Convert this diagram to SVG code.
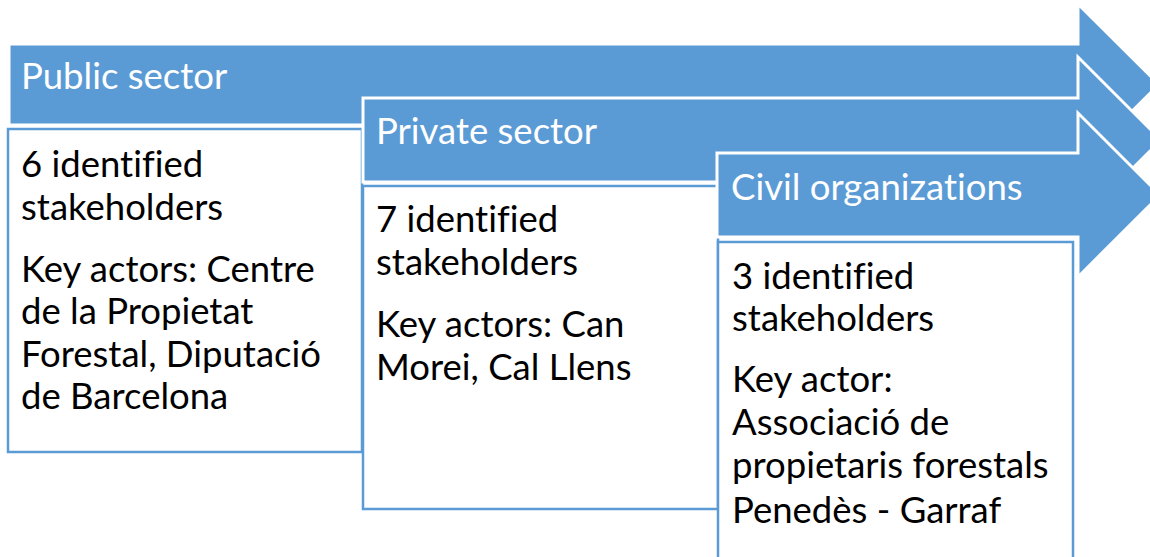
<svg xmlns="http://www.w3.org/2000/svg" width="1150" height="557" viewBox="0 0 1150 557">
  <style>
    .arrow { fill: #5B9BD5; stroke: #FFFFFF; stroke-width: 3; stroke-linejoin: miter; }
    .box { fill: #FFFFFF; stroke: #5B9BD5; stroke-width: 2.5; }
    text { font-family: Lato, "Liberation Sans", sans-serif; font-size: 36.5px; font-variant-ligatures: none; }
    .head { fill: #FFFFFF; }
    .body { fill: #000000; }
  </style>
  <rect width="1150" height="557" fill="#FFFFFF"/>

  <!-- Public sector -->
  <g id="public-sector">
    <polygon class="arrow" points="9,44 1078,44 1078,4 1159,84.5 1078,165 1078,125 9,125"/>
    <text class="head" x="21" y="89">Public sector</text>
    <rect class="box" x="8" y="129" width="354" height="323"/>
    <text class="body" x="21" y="177">6 identified</text>
    <text class="body" x="21" y="220">stakeholders</text>
    <text class="body" x="21" y="282">Key actors: Centre</text>
    <text class="body" x="21" y="324">de la Propietat</text>
    <text class="body" x="21" y="367">Forestal, Diputació</text>
    <text class="body" x="21" y="409">de Barcelona</text>
  </g>

  <!-- Private sector -->
  <g id="private-sector">
    <polygon class="arrow" points="363,98 1078,98 1078,57 1161,140 1078,223 1078,182 363,182"/>
    <text class="head" x="376" y="144">Private sector</text>
    <rect class="box" x="363" y="186" width="355" height="323"/>
    <text class="body" x="376" y="232">7 identified</text>
    <text class="body" x="376" y="275">stakeholders</text>
    <text class="body" x="376" y="337">Key actors: Can</text>
    <text class="body" x="376" y="380">Morei, Cal Llens</text>
  </g>

  <!-- Civil organizations -->
  <g id="civil-organizations">
    <polygon class="arrow" points="717,153 1078,153 1078,113 1160,195 1078,277 1078,237 717,237"/>
    <text class="head" x="731" y="200">Civil organizations</text>
    <rect class="box" x="718" y="242" width="355" height="330"/>
    <text class="body" x="732" y="289">3 identified</text>
    <text class="body" x="732" y="331">stakeholders</text>
    <text class="body" x="732" y="392">Key actor:</text>
    <text class="body" x="732" y="435">Associació de</text>
    <text class="body" x="732" y="478">propietaris forestals</text>
    <text class="body" x="732" y="523">Penedès - Garraf</text>
  </g>

  <g id="connectors"/>
</svg>
